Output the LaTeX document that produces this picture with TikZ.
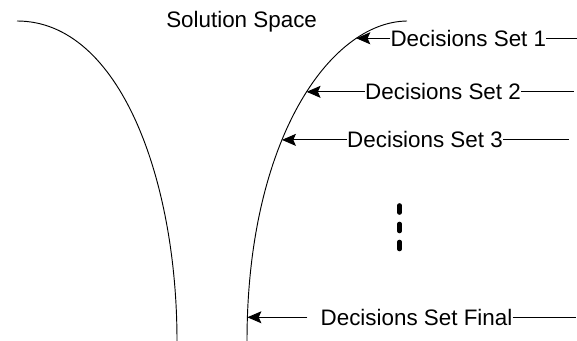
\documentclass[tikz,border=0pt]{standalone}
\usepackage{fontspec}
\setmainfont{Liberation Sans}
\usepackage{tikz}
\usetikzlibrary{positioning, arrows.meta}
\tikzstyle{decision} = [anchor=west, inner sep=0pt, text height=12pt, text depth=0pt, font=\fontsize{16.8}{20}\selectfont]
\tikzstyle{bound} = [line width=0.7pt]
\tikzstyle{arrow} = [line width=0.7pt, -{Stealth[length=10.5pt, width=9pt, inset=2pt]}]
\tikzstyle{tail} = [line width=0.7pt]
\tikzstyle{vdot} = [line width=3.5pt, line cap=round]

\begin{document}
\begin{tikzpicture}[x=0.75pt, y=-0.75pt, node distance=10pt]
        \useasboundingbox (0,0) rectangle (577,341);

        \draw[bound] (17,21) .. controls (120,21) and (177,180) .. (177,341);
        \draw[bound] (407,21) .. controls (330,22) and (247,140) .. (247,341)
            coordinate[pos=0.22]  (tip 1)
            coordinate[pos=0.455] (tip 2)
            coordinate[pos=0.595] (tip 3)
            coordinate[pos=0.96]  (tip 4);

        \node[decision] at (166,20)                             (space)   {Solution Space};
        \node[decision, right=25.5pt of tip 1]                  (set 1)   {Decisions Set 1};
        \node[decision, right=43.8pt of tip 2]                  (set 2)   {Decisions Set 2};
        \node[decision, right=48.75pt of tip 3]                 (set 3)   {Decisions Set 3};
        \node[decision, right=54.75pt of tip 4]                 (set 4)   {Decisions Set Final};

        \coordinate[right=24pt of set 1]    (end 1);
        \coordinate[right=39.75pt of set 2] (end 2);
        \coordinate[right=49.5pt of set 3]  (end 3);
        \coordinate[right=47.25pt of set 4] (end 4);

        \draw[arrow] (set 1) -- (tip 1);
        \draw[arrow] (set 2) -- (tip 2);
        \draw[arrow] (set 3) -- (tip 3);
        \draw[arrow] ([xshift=-9.75pt]set 4.west) -- (tip 4);

        \draw[tail] (set 1) -- (end 1);
        \draw[tail] (set 2) -- (end 2);
        \draw[tail] (set 3) -- (end 3);
        \draw[tail] (set 4) -- (end 4);

        \foreach \y in {209,227.5,245.5}
            \draw[vdot] (399.5,\y-3.5) -- (399.5,\y+3.5);
    \end{tikzpicture}
\end{document}
